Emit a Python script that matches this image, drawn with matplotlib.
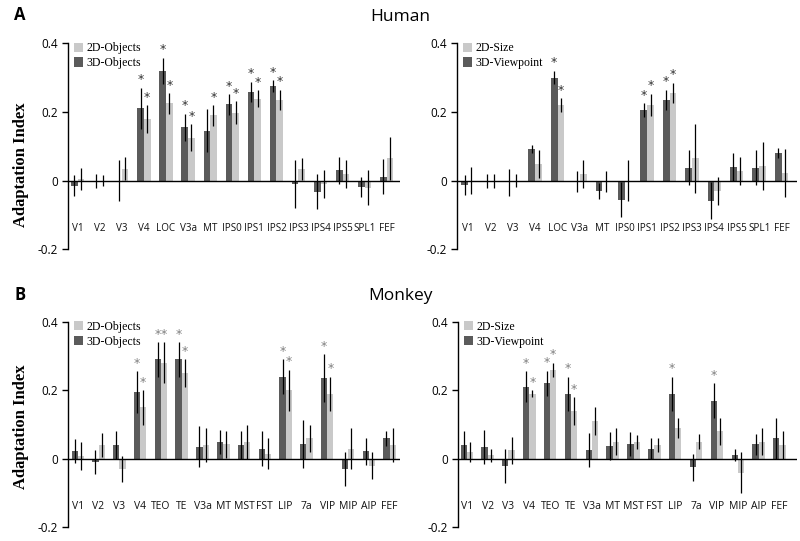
import matplotlib
matplotlib.use("Agg")
import matplotlib.pyplot as plt
from matplotlib.patches import Patch
import numpy as np

# ---------------- data ----------------
human_areas = ["V1", "V2", "V3", "V4", "LOC", "V3a", "MT", "IPS0", "IPS1", "IPS2",
               "IPS3", "IPS4", "IPS5", "SPL1", "FEF"]
monkey_areas = ["V1", "V2", "V3", "V4", "TEO", "TE", "V3a", "MT", "MST", "FST",
                "LIP", "7a", "VIP", "MIP", "AIP", "FEF"]

# Human, objects
h_obj3d = [-0.015, 0.0, 0.0, 0.21, 0.32, 0.155, 0.145, 0.222, 0.258, 0.275, -0.01, -0.032, 0.03, -0.018, 0.012]
h_obj3d_err = [0.03, 0.02, 0.06, 0.06, 0.038, 0.04, 0.062, 0.03, 0.03, 0.017, 0.07, 0.05, 0.04, 0.03, 0.05]
h_obj2d = [0.005, 0.0, 0.035, 0.18, 0.225, 0.125, 0.19, 0.198, 0.238, 0.235, 0.033, -0.01, 0.02, -0.02, 0.065]
h_obj2d_err = [0.032, 0.015, 0.033, 0.04, 0.03, 0.04, 0.03, 0.033, 0.025, 0.03, 0.032, 0.04, 0.04, 0.05, 0.062]
h_obj3d_sig = [0, 0, 0, 1, 1, 1, 0, 1, 1, 1, 0, 0, 0, 0, 0]
h_obj2d_sig = [0, 0, 0, 1, 1, 1, 1, 1, 1, 1, 0, 0, 0, 0, 0]

# Human, viewpoint / size
h_vp3d = [-0.013, 0.0, -0.005, 0.092, 0.30, -0.002, -0.03, -0.055, 0.205, 0.235, 0.038, -0.058, 0.04, 0.038, 0.08]
h_vp3d_err = [0.03, 0.02, 0.04, 0.013, 0.02, 0.03, 0.022, 0.052, 0.02, 0.03, 0.05, 0.053, 0.04, 0.05, 0.015]
h_size2d = [0.0, 0.0, 0.0, 0.048, 0.22, 0.02, -0.003, 0.0, 0.22, 0.255, 0.065, -0.03, 0.028, 0.042, 0.022]
h_size2d_err = [0.04, 0.02, 0.018, 0.04, 0.02, 0.04, 0.03, 0.06, 0.033, 0.03, 0.1, 0.04, 0.04, 0.07, 0.07]
h_vp3d_sig = [0, 0, 0, 0, 1, 0, 0, 0, 1, 1, 0, 0, 0, 0, 0]
h_size2d_sig = [0, 0, 0, 0, 1, 0, 0, 0, 1, 1, 0, 0, 0, 0, 0]

# Monkey, objects
m_obj3d = [0.022, -0.01, 0.04, 0.195, 0.29, 0.29, 0.035, 0.05, 0.04, 0.03, 0.24, 0.042, 0.235, -0.03, 0.022, 0.06]
m_obj3d_err = [0.035, 0.035, 0.04, 0.06, 0.05, 0.05, 0.06, 0.035, 0.04, 0.05, 0.05, 0.07, 0.07, 0.05, 0.04, 0.022]
m_obj2d = [0.008, 0.04, -0.03, 0.15, 0.28, 0.25, 0.04, 0.042, 0.05, 0.015, 0.2, 0.06, 0.19, 0.03, -0.02, 0.04]
m_obj2d_err = [0.04, 0.035, 0.038, 0.05, 0.06, 0.04, 0.05, 0.04, 0.05, 0.045, 0.06, 0.04, 0.05, 0.06, 0.04, 0.05]
m_obj3d_sig = [0, 0, 0, 1, 1, 1, 0, 0, 0, 0, 1, 0, 1, 0, 0, 0]
m_obj2d_sig = [0, 0, 0, 1, 1, 1, 0, 0, 0, 0, 1, 0, 1, 0, 0, 0]

# Monkey, viewpoint / size
m_vp3d = [0.04, 0.035, -0.02, 0.21, 0.22, 0.19, 0.025, 0.037, 0.042, 0.03, 0.19, -0.025, 0.17, 0.012, 0.042, 0.06]
m_vp3d_err = [0.04, 0.05, 0.05, 0.045, 0.037, 0.05, 0.05, 0.04, 0.035, 0.03, 0.05, 0.04, 0.05, 0.017, 0.03, 0.06]
m_size2d = [0.02, 0.01, 0.025, 0.19, 0.26, 0.14, 0.11, 0.05, 0.05, 0.04, 0.09, 0.05, 0.08, -0.04, 0.05, 0.04]
m_size2d_err = [0.03, 0.02, 0.04, 0.01, 0.02, 0.04, 0.04, 0.04, 0.02, 0.02, 0.03, 0.022, 0.04, 0.06, 0.04, 0.04]
m_vp3d_sig = [0, 0, 0, 1, 1, 1, 0, 0, 0, 0, 1, 0, 1, 0, 0, 0]
m_size2d_sig = [0, 0, 0, 1, 1, 1, 0, 0, 0, 0, 0, 0, 0, 0, 0, 0]

yticks = [-0.2, 0, 0.2, 0.4]
ytick_labels = ["-0.2", "0", "0.2", "0.4"]

# ---------------- style ----------------
DARK = "#5b5b5b"
LIGHT = "#c9c9c9"
BW = 0.3

fig = plt.figure(figsize=(8.0, 5.41), dpi=100)

def panel(rect, areas, d3, d3e, d2, d2e, s3, s2, lab2, lab3, xlim, star_color, ylabel_y, cat_fs):
    ax = fig.add_axes(rect)
    x = np.arange(len(areas))
    ax.bar(x - BW / 2, d3, BW, color=DARK, zorder=2)
    ax.bar(x + BW / 2, d2, BW, color=LIGHT, zorder=2)
    ax.errorbar(x - BW / 2, d3, yerr=d3e, fmt="none", ecolor="black", elinewidth=0.9, capsize=0, zorder=3)
    ax.errorbar(x + BW / 2, d2, yerr=d2e, fmt="none", ecolor="black", elinewidth=0.9, capsize=0, zorder=3)
    for xi, v, e, s in zip(x - BW / 2, d3, d3e, s3):
        if s:
            ax.text(xi, v + e + 0.004, "*", ha="center", va="bottom", fontsize=9, color=star_color)
    for xi, v, e, s in zip(x + BW / 2, d2, d2e, s2):
        if s:
            ax.text(xi, v + e + 0.004, "*", ha="center", va="bottom", fontsize=9, color=star_color)
    ax.axhline(0, color="black", lw=1.0, zorder=4)
    for xi, a in zip(x, areas):
        ax.text(xi, -0.14, a, ha="center", va="center", fontsize=cat_fs, family="Open Sans", color="#111111")
    ax.set_xlim(*xlim)
    ax.set_ylim(-0.2, 0.42)
    for sp in ["top", "right", "bottom"]:
        ax.spines[sp].set_visible(False)
    ax.spines["left"].set_bounds(-0.2, 0.4)
    ax.spines["left"].set_linewidth(1.0)
    ax.set_xticks([])
    ax.set_yticks(yticks)
    ax.set_yticklabels(ytick_labels, family="Open Sans", fontsize=8.5)
    ax.tick_params(axis="y", direction="out", length=4, width=1.0, pad=3)
    handles = [Patch(facecolor=LIGHT, label=lab2), Patch(facecolor=DARK, label=lab3)]
    ax.legend(handles=handles, loc="upper left", bbox_to_anchor=(0.0, 1.0), frameon=False,
              prop={"family": "Liberation Serif", "size": 8.5}, handlelength=0.8, handleheight=0.8,
              handletextpad=0.3, labelspacing=0.25, borderaxespad=0.3, borderpad=0.2)
    if ylabel_y is not None:
        ax.set_ylabel("Adaptation Index", family="Liberation Serif", fontweight="bold", fontsize=12)
        ax.yaxis.label.set_va("center")
        ax.yaxis.set_label_coords(-0.1416, ylabel_y)
    return ax

panel([0.085, 0.539, 0.415, 0.394], human_areas, h_obj3d, h_obj3d_err, h_obj2d, h_obj2d_err,
      h_obj3d_sig, h_obj2d_sig, "2D-Objects", "3D-Objects", (-0.44, 14.6), "#333333", 0.396, 7.1)
panel([0.571, 0.539, 0.425, 0.394], human_areas, h_vp3d, h_vp3d_err, h_size2d, h_size2d_err,
      h_vp3d_sig, h_size2d_sig, "2D-Size", "3D-Viewpoint", (-0.5, 14.68), "#333333", None, 7.1)
panel([0.085, 0.025, 0.415, 0.393], monkey_areas, m_obj3d, m_obj3d_err, m_obj2d, m_obj2d_err,
      m_obj3d_sig, m_obj2d_sig, "2D-Objects", "3D-Objects", (-0.47, 15.5), "#808080", 0.473, 7.5)
panel([0.5725, 0.025, 0.424, 0.393], monkey_areas, m_vp3d, m_vp3d_err, m_size2d, m_size2d_err,
      m_vp3d_sig, m_size2d_sig, "2D-Size", "3D-Viewpoint", (-0.42, 15.85), "#808080", None, 7.5)

fig.text(0.5, 0.968, "Human", ha="center", va="center", fontsize=12.5, family="Open Sans")
fig.text(0.5, 0.453, "Monkey", ha="center", va="center", fontsize=12.5, family="Open Sans")
fig.text(0.018, 0.972, "A", ha="left", va="center", fontsize=12, fontweight="bold", family="Open Sans")
fig.text(0.018, 0.455, "B", ha="left", va="center", fontsize=12, fontweight="bold", family="Open Sans")

fig.savefig("out.png", dpi=100)
